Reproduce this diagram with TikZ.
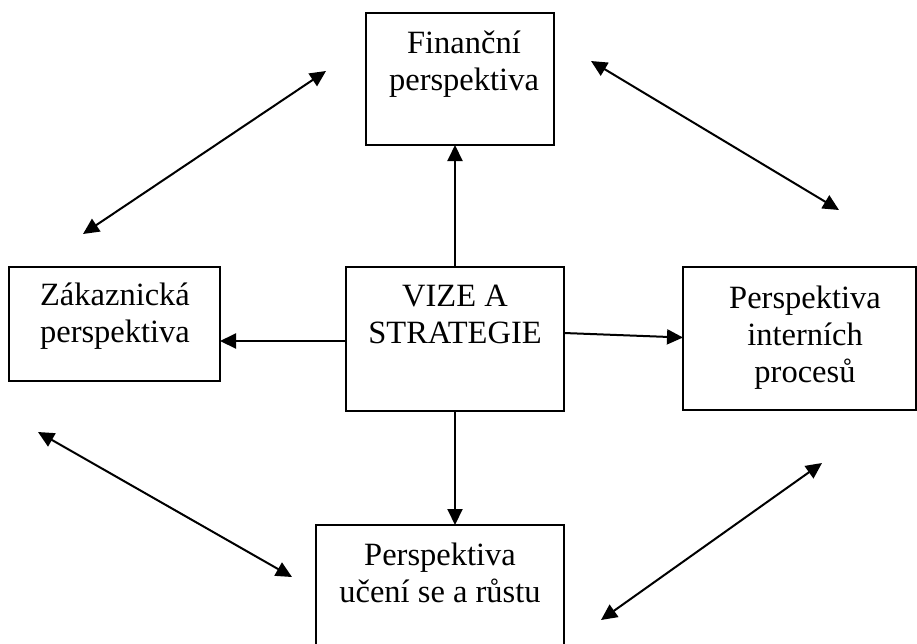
\documentclass[tikz,border=0pt]{standalone}
\usepackage{fontspec}
\setmainfont{Liberation Serif}
\usetikzlibrary{arrows.meta}
\begin{document}
\begin{tikzpicture}[x=1pt,y=-1pt,
  panel/.style={draw, line width=2.2pt, outer sep=0pt, inner sep=0pt, anchor=north west},
  caption/.style={anchor=base, inner sep=0pt, font=\fontsize{32.5}{37}\selectfont},
  link/.style={line width=2pt, -{Triangle[length=16pt,width=15pt]}},
  twoway/.style={line width=2pt, {Triangle[length=16pt,width=15pt]}-{Triangle[length=16pt,width=15pt]}}]
\useasboundingbox (0,0) rectangle (917,643);

% boxes
\node[panel, minimum width=188pt, minimum height=132pt] (fin) at (366,13) {};
\node[panel, minimum width=218pt, minimum height=144pt] (vize) at (346,267) {};
\node[panel, minimum width=211pt, minimum height=114pt] (zak) at (9,267) {};
\node[panel, minimum width=233pt, minimum height=143pt] (int) at (683,267) {};
\node[panel, minimum width=248pt, minimum height=140pt] (uc) at (316,525) {};

% box texts
\node[caption] (fint) at (464,53) {\parbox[t]{220pt}{\centering Finanční\\perspektiva}};
\node[caption] (vizet) at (455,306) {\parbox[t]{220pt}{\centering VIZE A\\STRATEGIE}};
\node[caption] (zakt) at (115,305) {\parbox[t]{220pt}{\centering Zákaznická\\perspektiva}};
\node[caption] (intt) at (805,308) {\parbox[t]{220pt}{\centering Perspektiva\\interních\\procesů}};
\node[caption] (uct) at (440,565) {\parbox[t]{260pt}{\centering Perspektiva\\učení se a růstu}};

% arrows out of the centre box
\draw[link] (vize.north) -- (vize.north |- fin.south);
\draw[link] ([yshift=-2pt]vize.west) -- ([yshift=-2pt]vize.west -| zak.east);
\draw[link] ([yshift=6pt]vize.east) -- ([yshift=1pt]int.west);
\draw[link] (vize.south) -- (vize.south |- uc.north);

% two-way arrows between the outer perspectives
\coordinate (a1) at (83,234);  \coordinate (a2) at (326,71);
\coordinate (b1) at (591,61);  \coordinate (b2) at (839,210);
\coordinate (c1) at (38,432);  \coordinate (c2) at (292,577);
\coordinate (d1) at (822,463); \coordinate (d2) at (601,620);
\draw[twoway] (a1) -- (a2);
\draw[twoway] (b1) -- (b2);
\draw[twoway] (c1) -- (c2);
\draw[twoway] (d1) -- (d2);
\end{tikzpicture}
\end{document}
